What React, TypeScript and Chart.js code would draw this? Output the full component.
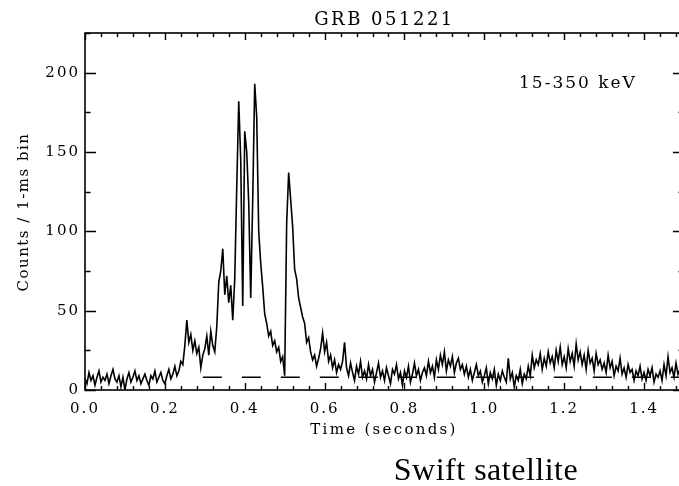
import React, { useEffect, useRef } from 'react';
import { Chart, registerables } from 'chart.js';

Chart.register(...registerables);

const TITLE = 'GRB 051221';
const BAND_LABEL = '15-350 keV';
const X_TITLE = 'Time (seconds)';
const Y_TITLE = 'Counts / 1-ms bin';
const CAPTION = 'Swift satellite';

// light curve, sampled every 5 ms starting at t = 0
const BIN_START = 0;
const BIN_WIDTH = 0.005;
const counts = [
  7, 4, 11, 6, 9, 3, 8, 12, 5, 8,
  6, 10, 4, 9, 13, 7, 5, 9, 2, 8,
  0, 7, 11, 5, 8, 12, 6, 9, 4, 7,
  10, 6, 3, 9, 7, 12, 5, 8, 11, 6,
  4, 9, 13, 7, 10, 15, 9, 12, 18, 16,
  28, 44, 30, 35, 25, 31, 23, 27, 14, 22,
  26, 34, 22, 37, 28, 24, 40, 68, 75, 89,
  60, 72, 55, 66, 44, 70, 128, 182, 145, 53,
  163, 150, 118, 58, 120, 193, 172, 100, 80, 65,
  48, 42, 34, 37, 28, 31, 24, 27, 18, 21,
  9, 105, 137, 120, 103, 76, 70, 58, 52, 46,
  42, 30, 33, 24, 19, 22, 15, 20, 26, 36,
  24, 30, 18, 22, 14, 19, 11, 16, 13, 18,
  30, 14, 9, 17, 11, 6, 15, 10, 18, 8,
  12, 7, 16, 9, 13, 5, 11, 17, 8, 12,
  6, 14, 9, 4, 13, 10, 16, 7, 11, 3,
  12, 8, 15, 5, 10, 17, 9, 13, 6, 11,
  14, 9, 18, 11, 15, 8, 19, 13, 22, 16,
  24, 12, 19, 15, 21, 11, 17, 20, 13, 16,
  10, 15, 8, 13, 6, 11, 16, 9, 12, 5,
  9, 14, 4, 11, 7, 13, 3, 10, 6, 12,
  8, 5, 20, 7, 11, 2, 9, 6, 13, 4,
  10, 7, 15, 9, 22, 14, 19, 16, 23, 13,
  20, 15, 24, 17, 21, 14, 25, 18, 27, 16,
  21, 14, 26, 18, 23, 15, 29, 19, 24, 16,
  22, 13, 25, 17, 20, 12, 23, 16, 19, 13,
  17, 11, 22, 14, 18, 9, 15, 12, 20, 10,
  14, 8, 16, 11, 13, 6, 12, 9, 15, 7,
  11, 6, 13, 9, 14, 5, 10, 8, 12, 6,
  16, 9, 21, 11, 14, 8, 17, 10, 13, 15,
];

// background level (dashed)
const BG_LEVEL = 8;
const BG_START = 0.295;
const BG_END = 1.5;

const X_MIN = 0;
const X_MAX = 1.5;
const Y_MIN = 0;
const Y_MAX = 225;
const X_TICKS = [0, 0.2, 0.4, 0.6, 0.8, 1.0, 1.2, 1.4];
const Y_TICKS = [0, 50, 100, 150, 200];
const X_MINOR = 0.04;
const Y_MINOR = 25;

const FONT = 'DejaVu Serif';

const spacingPlugin = {
  id: 'spacing',
  beforeDraw(chart: any) {
    chart.ctx.letterSpacing = '2px';
  },
};

const framePlugin = {
  id: 'frame',
  afterDraw(chart: any) {
    const { ctx, chartArea: a, scales } = chart;
    const x = scales.x;
    const y = scales.y;
    ctx.save();
    ctx.strokeStyle = '#000';
    ctx.lineWidth = 1.6;
    ctx.strokeRect(a.left, a.top, a.right - a.left, a.bottom - a.top);
    ctx.lineWidth = 1.4;
    ctx.beginPath();
    const nx = Math.floor((X_MAX - X_MIN) / X_MINOR + 1e-6);
    for (let i = 0; i <= nx; i++) {
      const v = X_MIN + i * X_MINOR;
      const px = Math.round(x.getPixelForValue(v)) + 0.5;
      const len = i % 5 === 0 ? 7 : 4;
      ctx.moveTo(px, a.bottom);
      ctx.lineTo(px, a.bottom - len);
      ctx.moveTo(px, a.top);
      ctx.lineTo(px, a.top + len);
    }
    const ny = Math.floor((Y_MAX - Y_MIN) / Y_MINOR + 1e-6);
    for (let i = 0; i <= ny; i++) {
      const v = Y_MIN + i * Y_MINOR;
      const py = Math.round(y.getPixelForValue(v)) + 0.5;
      const len = i % 2 === 0 ? 11 : 5.5;
      ctx.moveTo(a.left, py);
      ctx.lineTo(a.left + len, py);
      ctx.moveTo(a.right, py);
      ctx.lineTo(a.right - len, py);
    }
    ctx.stroke();

    ctx.fillStyle = '#000';
    // title
    ctx.letterSpacing = '2.5px';
    ctx.font = `18px "${FONT}"`;
    ctx.textAlign = 'center';
    ctx.textBaseline = 'alphabetic';
    ctx.fillText(TITLE, (a.left + a.right) / 2, 25);
    // energy band
    ctx.letterSpacing = '2px';
    ctx.font = `17px "${FONT}"`;
    ctx.textAlign = 'left';
    ctx.fillText(BAND_LABEL, 519, 88);
    // x title
    ctx.letterSpacing = '2.3px';
    ctx.font = `15px "${FONT}"`;
    ctx.textAlign = 'center';
    ctx.fillText(X_TITLE, 384, 434);
    // y title
    ctx.save();
    ctx.translate(24, 212);
    ctx.rotate(-Math.PI / 2);
    ctx.letterSpacing = '1.5px';
    ctx.textBaseline = 'middle';
    ctx.fillText(Y_TITLE, 0, 0);
    ctx.restore();
    // caption
    ctx.letterSpacing = '0.5px';
    ctx.font = `32px "Liberation Serif"`;
    ctx.textAlign = 'center';
    ctx.textBaseline = 'alphabetic';
    ctx.fillText(CAPTION, 486, 480);
    ctx.letterSpacing = '0px';
    ctx.restore();
  },
};

export default function App() {
  const ref = useRef<HTMLCanvasElement>(null);
  useEffect(() => {
    const curve = counts.map((c, i) => ({ x: BIN_START + i * BIN_WIDTH, y: c }));
    const bg = [
      { x: BG_START, y: BG_LEVEL },
      { x: BG_END, y: BG_LEVEL },
    ];
    const chart = new Chart(ref.current as HTMLCanvasElement, {
      type: 'line',
      data: {
        datasets: [
          {
            data: curve,
            borderColor: '#000',
            borderWidth: 1.6,
            pointRadius: 0,
            tension: 0,
            fill: false,
          },
          {
            data: bg,
            borderColor: '#000',
            borderWidth: 1.6,
            borderDash: [19, 20],
            pointRadius: 0,
            fill: false,
          },
        ],
      },
      options: {
        responsive: false,
        animation: false,
        devicePixelRatio: 1,
        layout: { padding: { left: 0, right: 16, top: 33, bottom: 0 } },
        plugins: { legend: { display: false }, tooltip: { enabled: false } },
        scales: {
          x: {
            type: 'linear',
            min: X_MIN,
            max: X_MAX,
            grid: { display: false, drawTicks: false },
            border: { display: false },
            afterBuildTicks: (s: any) => {
              s.ticks = X_TICKS.map((v) => ({ value: v }));
            },
            afterFit: (s: any) => {
              s.height = 96;
            },
            ticks: {
              color: '#000',
              padding: 10,
              maxRotation: 0,
              autoSkip: false,
              font: { family: FONT, size: 15 },
              callback: (v: any) => Number(v).toFixed(1),
            },
          },
          y: {
            type: 'linear',
            min: Y_MIN,
            max: Y_MAX,
            grid: { display: false, drawTicks: false },
            border: { display: false },
            afterBuildTicks: (s: any) => {
              s.ticks = Y_TICKS.map((v) => ({ value: v }));
            },
            afterFit: (s: any) => {
              s.width = 85;
            },
            ticks: {
              color: '#000',
              padding: 5,
              autoSkip: false,
              font: { family: FONT, size: 15 },
              callback: (v: any) => String(v),
            },
          },
        },
      },
      plugins: [spacingPlugin, framePlugin],
    });
    return () => chart.destroy();
  }, []);
  return (
    <div
      style={{
        position: 'fixed',
        left: 0,
        top: 0,
        width: 679,
        height: 486,
        overflow: 'hidden',
        background: '#fff',
      }}
    >
      <canvas
        ref={ref}
        width={700}
        height={486}
        style={{ display: 'block', width: 700, height: 486 }}
      />
    </div>
  );
}
